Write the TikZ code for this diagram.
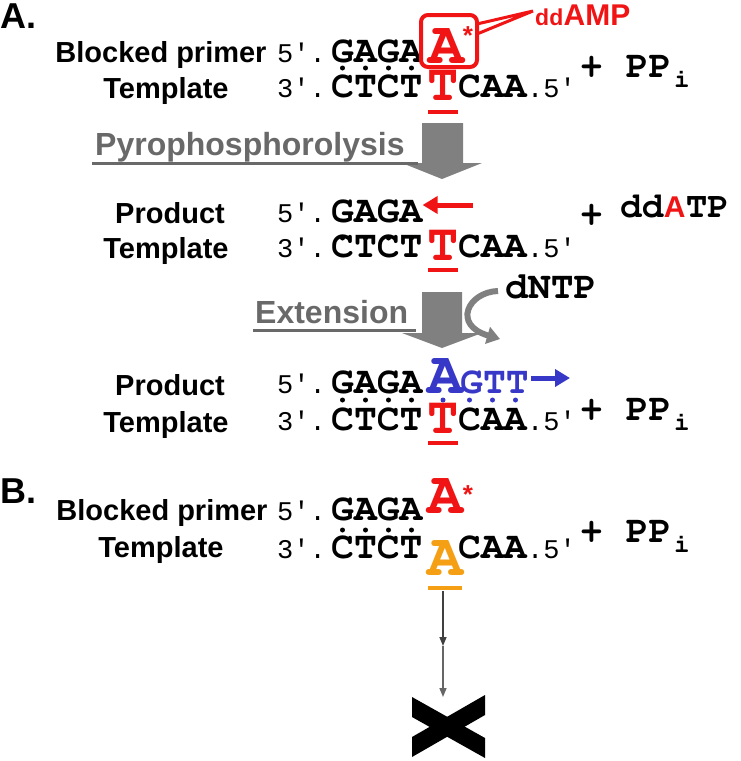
\documentclass[tikz,border=0pt]{standalone}
\usepackage[T1]{fontenc}
\usepackage{fontspec}
\setmainfont{Liberation Sans}
\newfontfamily\monofont{Liberation Mono}
\newcommand\cour{\fontencoding{T1}\fontfamily{pcr}\fontseries{b}\fontshape{n}}
\usetikzlibrary{arrows.meta}
\definecolor{dnared}{RGB}{240,20,20}
\definecolor{dnablue}{RGB}{55,55,200}
\definecolor{dnaorange}{RGB}{245,160,20}
\definecolor{arrowgray}{RGB}{128,128,128}
\definecolor{textgray}{RGB}{105,105,105}
\tikzset{
  lab/.style={font=\bfseries\fontsize{29}{30}\selectfont, inner sep=0, anchor=base},
  head/.style={font=\bfseries\fontsize{36}{36}\selectfont, inner sep=0, anchor=base west},
  seq/.style={font=\cour\fontsize{38}{40}\selectfont, inner sep=0, anchor=base west},
  bigA/.style={font=\cour\fontsize{60}{60}\selectfont, inner sep=0, anchor=base},
  bigT/.style={font=\cour\fontsize{52}{52}\selectfont, inner sep=0, anchor=base},
  endtag/.style={font=\monofont\fontsize{27}{28}\selectfont, inner sep=0, anchor=base west},
  sub/.style={font=\cour\fontsize{26}{26}\selectfont, inner sep=0, anchor=base west},
  star/.style={font=\bfseries\fontsize{26}{26}\selectfont, text=dnared, inner sep=0, anchor=base},
  steplab/.style={font=\bfseries\fontsize{32}{32}\selectfont, text=textgray, inner sep=0, anchor=base west},
  bar/.style={line width=4.5},
  tip/.style={-{Triangle[length=15,width=17]}}
}
\begin{document}
\begin{tikzpicture}[x=1pt,y=-1pt]
  \useasboundingbox (0,0) rectangle (740,761);

  \node[head] (pA) at (0,28) {A.};
  \node[lab] (bp1) at (161,62) {Blocked primer};
  \node[lab] (tp1) at (166,98) {Template};
  \node[endtag] (f1) at (277,62) {5′.};
  \node[seq] (s1) at (331,62) {GAGA};
  \node[bigA,text=dnared] (dd1) at (446,63) {A};
  \draw[dnared,line width=4,rounded corners=7] (421,15) rectangle (477,67);
  \node[star] (ast1) at (468,44) {*};
  \draw[dnared,line width=3] (477,24) -- (533,11) -- (477,34);
  \node[font=\bfseries\fontsize{23}{23}\selectfont,text=dnared,inner sep=0,anchor=base west] (ddt) at (535,25) {dd};
  \node[font=\bfseries\fontsize{30}{30}\selectfont,text=dnared,inner sep=0,anchor=base west] (amp) at (ddt.base east) {AMP};
  \node[endtag] (t1) at (277,97) {3′.};
  \node[seq] (c1) at (331,97) {CTCT};
  \node[bigT,text=dnared] (m1) at (443,100) {T};
  \node[seq] (c1b) at (458,97) {CAA};
  \node[endtag] (e1) at (527,97) {.5′};
  \draw[dnared,bar] (428,112) -- (458,112);
  \node[seq] (pp1) at (580,77) {+ PP};
  \node[sub] (i1) at (674,87) {i};
  \foreach \x in {342.5,365.5,388.5,411.5} \fill (\x,68) circle (2.5);

  \fill[arrowgray] (422,123) -- (463,123) -- (463,163) -- (482,163) -- (442,179) -- (402,163) -- (422,163) -- cycle;
  \node[steplab] (pyro) at (95,155) {Pyrophosphorolysis};
  \draw[textgray,line width=3] (92,163) -- (418,163);

  \node[lab] (pr2) at (170,223) {Product};
  \node[lab] (tp2) at (166,258) {Template};
  \node[endtag] (f2) at (277,222) {5′.};
  \node[seq] (s2) at (331,222) {GAGA};
  \coordinate (ra) at (473,205);
  \draw[dnared,line width=5,tip] (ra) -- (s2.east |- ra);
  \node[endtag] (t2) at (277,257) {3′.};
  \node[seq] (c2) at (331,257) {CTCT};
  \node[bigT,text=dnared] (m2) at (443,260) {T};
  \node[seq] (c2b) at (458,257) {CAA};
  \node[endtag] (e2) at (527,257) {.5′};
  \draw[dnared,bar] (428,270) -- (458,270);
  \foreach \x in {342.5,365.5,388.5,411.5} \fill (\x,238) circle (2.5);
  \node[seq] (plus2) at (580,225) {+};
  \node[font=\cour\fontsize{36}{36}\selectfont,inner sep=0,anchor=base west] (dd2) at (620,217) {dd};
  \node[font=\bfseries\fontsize{30}{30}\selectfont,text=dnared,inner sep=0,anchor=base west] (a2) at (dd2.base east) {A};
  \node[font=\cour\fontsize{36}{36}\selectfont,inner sep=0,anchor=base west] (tp2b) at (a2.base east) {TP};

  \fill[arrowgray] (422,292) -- (462,292) -- (462,333) -- (482,333) -- (442,348) -- (402,333) -- (422,333) -- cycle;
  \node[steplab] (ext) at (255,323) {Extension};
  \draw[textgray,line width=3] (253,330) -- (416,330);
  \node[seq] (dntp) at (505,298) {dNTP};
  \coordinate (cv) at (498,291);
  \coordinate (cw) at (500,339);
  \draw[arrowgray,line width=6,-{Triangle[length=13,width=17]}] (cv) .. controls (468,292) and (452,325) .. (cw);

  \node[lab] (pr3) at (170,395) {Product};
  \node[lab] (tp3) at (166,432) {Template};
  \node[endtag] (f3) at (277,393) {5′.};
  \node[seq] (s3) at (331,393) {GAGA};
  \node[bigA,text=dnablue] (n3) at (445,393) {A};
  \node[seq,text=dnablue] (g3) at (460,393) {GTT};
  \coordinate (ba) at (570,378);
  \draw[dnablue,line width=5,tip] (g3.east |- ba) ++(2,0) -- (ba);
  \node[endtag] (t3) at (277,430) {3′.};
  \node[seq] (c3) at (331,430) {CTCT};
  \node[bigT,text=dnared] (m3) at (443,433) {T};
  \node[seq] (c3b) at (458,430) {CAA};
  \node[endtag] (e3) at (527,430) {.5′};
  \draw[dnared,bar] (428,443) -- (458,443);
  \foreach \x in {342.5,365.5,388.5,411.5} \fill (\x,400) circle (2.5);
  \foreach \x in {443,469.5,492.5,515.5} \fill[dnablue] (\x,400) circle (2.5);
  \node[seq] (pp3) at (580,420) {+ PP};
  \node[sub] (i3) at (674,430) {i};

  \node[head] (pB) at (0,503) {B.};
  \node[lab] (bp4) at (162,520) {Blocked primer};
  \node[lab] (tp4) at (161,557) {Template};
  \node[endtag] (f4) at (277,520) {5′.};
  \node[seq] (s4) at (331,520) {GAGA};
  \node[bigA,text=dnared] (dd4) at (445,513) {A};
  \node[star] (ast4) at (468,503) {*};
  \node[endtag] (t4) at (277,558) {3′.};
  \node[seq] (c4) at (331,558) {CTCT};
  \node[bigA,text=dnaorange] (o4) at (445,575) {A};
  \node[seq] (c4b) at (458,558) {CAA};
  \node[endtag] (e4) at (527,558) {.5′};
  \draw[dnaorange,bar] (428,588) -- (462,588);
  \foreach \x in {342.5,365.5,388.5,411.5} \fill (\x,530) circle (2.5);
  \node[seq] (pp4) at (580,542) {+ PP};
  \node[sub] (i4) at (674,552) {i};

  \coordinate (ob) at (443,591);
  \coordinate (om) at (443,646);
  \coordinate (xt) at (443,697);
  \draw[black!75,line width=1.5,-{Triangle[length=9,width=7]}] (ob) -- (om);
  \draw[black!60,line width=1.5,-{Triangle[length=9,width=7]}] (om) -- (xt);
  \fill (412,697) -- (412,717) -- (485,758) -- (485,738) -- cycle;
  \fill (485,695) -- (485,715) -- (412,757) -- (412,737) -- cycle;
\end{tikzpicture}
\end{document}
